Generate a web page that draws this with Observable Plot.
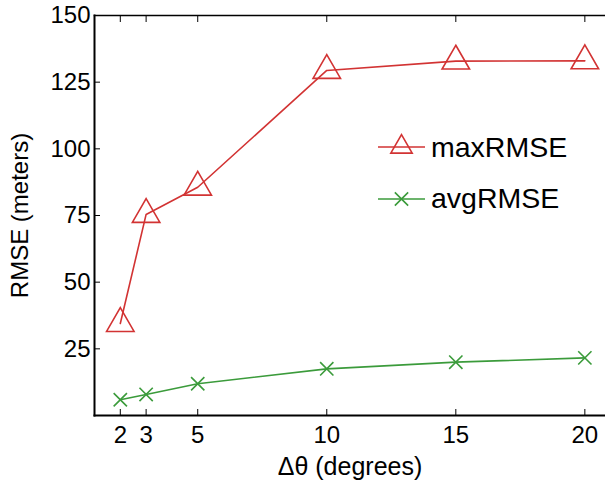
<!DOCTYPE html>
<html><head><meta charset="utf-8">
<script src="https://cdn.jsdelivr.net/npm/d3@7"></script>
<script src="https://cdn.jsdelivr.net/npm/@observablehq/plot@0.6"></script>
<style>
html,body{margin:0;padding:0;background:#fff;overflow:hidden}
#wrap{position:relative;width:605px;height:485px;font-family:"Liberation Sans",Arial,Helvetica,sans-serif}
.leg{position:absolute;left:378px;height:30px;display:flex;align-items:center;font-size:28.5px;color:#000;white-space:nowrap}
.leg svg{display:block;margin-right:6px}
</style></head><body><div id="wrap"></div>
<script>
const deltaTheta = [2, 3, 5, 10, 15, 20];
const maxRMSE = [34.5, 75.4, 85.6, 129.4, 132.9, 133.0];
const avgRMSE = [5.9, 7.9, 11.9, 17.5, 20.0, 21.6];
const xTicks = [2, 3, 5, 10, 15, 20];
const yTicks = [25, 50, 75, 100, 125, 150];
const seriesNames = ["maxRMSE", "avgRMSE"];
const seriesColors = ["#d23333", "#3b9b3b"];
const seriesSymbols = ["triangle", "times"];

const maxRows = deltaTheta.map((x, i) => ({x, y: maxRMSE[i], series: seriesNames[0]}));
const avgRows = deltaTheta.map((x, i) => ({x, y: avgRMSE[i], series: seriesNames[1]}));
const rows = [...maxRows, ...avgRows];
const font = '"Liberation Sans", Arial, Helvetica, sans-serif';
const triR = 10.2, crossR = 6.1;

const chart = Plot.plot({
  width: 605, height: 485,
  marginLeft: 94, marginRight: 0, marginTop: 15, marginBottom: 70,
  style: {fontFamily: font, fontSize: "24px", color: "#000", background: "white", overflow: "visible"},
  x: {domain: [1, 20.8]},
  y: {domain: [0, 150]},
  color: {domain: seriesNames, range: seriesColors},
  symbol: {domain: seriesNames, range: seriesSymbols},
  marks: [
    Plot.frame({anchor: "top", stroke: "#000", strokeWidth: 1.5}),
    Plot.frame({anchor: "bottom", stroke: "#000", strokeWidth: 2}),
    Plot.frame({anchor: "left", stroke: "#000", strokeWidth: 2}),
    Plot.axisX({ticks: xTicks, tickSize: -6, tickPadding: 16, fontSize: 24,
      label: null}),
    Plot.axisX({ticks: [], label: "Δθ (degrees)", labelAnchor: "center", labelOffset: 59, labelArrow: "none", fontSize: 25}),
    Plot.axisX({anchor: "top", ticks: xTicks, tickSize: -6, tickFormat: () => "", label: null}),
    Plot.axisY({ticks: yTicks, tickSize: -6, tickPadding: 10, fontSize: 24,
      label: "RMSE (meters)", labelAnchor: "center", labelOffset: 84, labelArrow: "none"}),
    Plot.line(rows, {x: "x", y: "y", stroke: "series", strokeWidth: 1.6}),
    Plot.dot(maxRows, {x: "x", y: "y", stroke: "series", symbol: "series", r: triR, fill: "none", strokeWidth: 1.6}),
    Plot.dot(avgRows, {x: "x", y: "y", stroke: "series", symbol: "series", r: crossR, fill: "none", strokeWidth: 1.6})
  ]
});
const wrap = document.getElementById("wrap");
wrap.appendChild(chart);

// legend
const legendTops = [132, 183.5];
seriesNames.forEach((name, i) => {
  const div = document.createElement("div");
  div.className = "leg";
  div.style.top = legendTops[i] + "px";
  const svg = d3.create("svg").attr("width", 47).attr("height", 30);
  svg.append("line").attr("x1", 0).attr("x2", 47).attr("y1", 15).attr("y2", 15)
    .attr("stroke", seriesColors[i]).attr("stroke-width", 1.6);
  const sym = i === 0 ? d3.symbolTriangle2 : d3.symbolTimes;
  const r = i === 0 ? triR : crossR;
  svg.append("path").attr("transform", "translate(23.5,15)")
    .attr("d", d3.symbol(sym, Math.PI * r * r)())
    .attr("fill", "none").attr("stroke", seriesColors[i]).attr("stroke-width", 1.6);
  div.appendChild(svg.node());
  const span = document.createElement("span");
  span.textContent = name;
  div.appendChild(span);
  wrap.appendChild(div);
});
</script>
</body></html>
